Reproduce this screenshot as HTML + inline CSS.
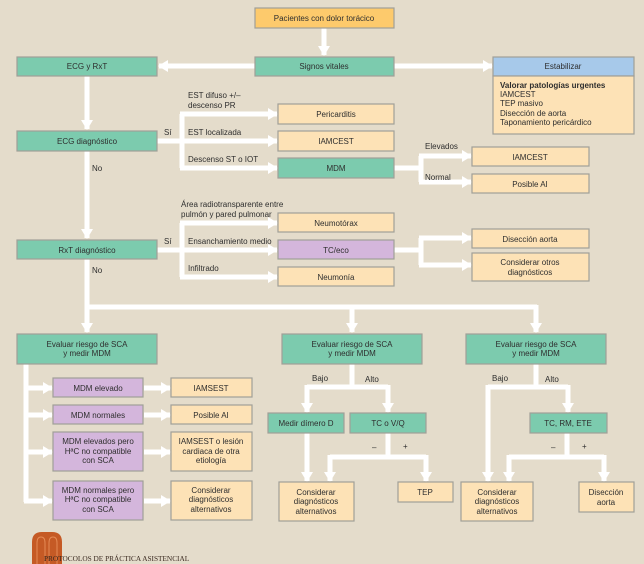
<!DOCTYPE html>
<html><head><meta charset="utf-8"><style>
html,body{margin:0;padding:0;background:#e4dccb;}
svg{display:block;}
text{font-family:"Liberation Sans",sans-serif;font-size:8px;fill:#2e2e2e;}
.c{text-anchor:middle;}
.g{fill:#7ccbae;stroke:#a09f98;stroke-width:1.2}
.p{fill:#fde2b6;stroke:#a09f98;stroke-width:1.2}
.v{fill:#d4b6dc;stroke:#a09f98;stroke-width:1.2}
.l{stroke:#fff;stroke-width:5;fill:none}
.a{fill:#fff}
</style></head><body>
<svg width="644" height="564" viewBox="0 0 644 564" xmlns="http://www.w3.org/2000/svg">
<defs>
<marker id="m" markerUnits="userSpaceOnUse" viewBox="0 0 10 12" refX="9" refY="6" markerWidth="10" markerHeight="12" orient="auto"><path d="M0,0 L10,6 L0,12 Z" fill="#fff"/></marker>
</defs>
<rect width="644" height="564" fill="#e4dccb"/>
<g class="l" stroke-linejoin="miter">
<path d="M324,28 V55" marker-end="url(#m)"/>
<path d="M255,66 H159" marker-end="url(#m)"/>
<path d="M394,66 H492" marker-end="url(#m)"/>
<path d="M87,76 V129" marker-end="url(#m)"/>
<path d="M157,141 H182"/>
<path d="M182,114 V168"/>
<path d="M180,114 H277" marker-end="url(#m)"/>
<path d="M182,141 H277" marker-end="url(#m)"/>
<path d="M180,168 H277" marker-end="url(#m)"/>
<path d="M394,168 H421"/>
<path d="M421,156 V182"/>
<path d="M419,156 H471" marker-end="url(#m)"/>
<path d="M419,182 H471" marker-end="url(#m)"/>
<path d="M87,151 V238" marker-end="url(#m)"/>
<path d="M157,250 H182"/>
<path d="M182,223 V277"/>
<path d="M180,223 H277" marker-end="url(#m)"/>
<path d="M182,250 H277" marker-end="url(#m)"/>
<path d="M180,277 H277" marker-end="url(#m)"/>
<path d="M394,250 H421"/>
<path d="M421,238 V265"/>
<path d="M419,238 H471" marker-end="url(#m)"/>
<path d="M419,265 H471" marker-end="url(#m)"/>
<path d="M87,259 V332" marker-end="url(#m)"/>
<path d="M85,307 H537"/>
<path d="M352,305 V332" marker-end="url(#m)"/>
<path d="M536,305 V332" marker-end="url(#m)"/>
<path d="M26,364 V502"/>
<path d="M24,388 H52" marker-end="url(#m)"/>
<path d="M26,415 H52" marker-end="url(#m)"/>
<path d="M26,452 H52" marker-end="url(#m)"/>
<path d="M24,501 H52" marker-end="url(#m)"/>
<path d="M144,388 H170" marker-end="url(#m)"/>
<path d="M144,415 H170" marker-end="url(#m)"/>
<path d="M144,452 H170" marker-end="url(#m)"/>
<path d="M144,501 H170" marker-end="url(#m)"/>
<path d="M352,364 V387"/>
<path d="M307,387 H388"/>
<path d="M307,385 V412" marker-end="url(#m)"/>
<path d="M388,385 V412" marker-end="url(#m)"/>
<path d="M307,433 V481" marker-end="url(#m)"/>
<path d="M388,433 V457"/>
<path d="M330,457 H426"/>
<path d="M330,455 V481" marker-end="url(#m)"/>
<path d="M426,455 V481" marker-end="url(#m)"/>
<path d="M536,364 V387"/>
<path d="M488,387 H568"/>
<path d="M488,385 V481" marker-end="url(#m)"/>
<path d="M568,385 V412" marker-end="url(#m)"/>
<path d="M567,433 V457"/>
<path d="M509,457 H604"/>
<path d="M509,455 V481" marker-end="url(#m)"/>
<path d="M604,455 V481" marker-end="url(#m)"/>
</g>
<rect x="255" y="8" width="139" height="20" fill="#fdca6c" stroke="#a09f98" stroke-width="1.2"/>
<text class="c" x="324" y="21">Pacientes con dolor torácico</text>
<rect class="g" x="255" y="57" width="139" height="19"/><text class="c" x="324" y="69">Signos vitales</text>
<rect class="g" x="17" y="57" width="140" height="19"/><text class="c" x="87" y="69">ECG y RxT</text>
<rect x="493" y="57" width="141" height="19" fill="#a7c9ea" stroke="#a09f98" stroke-width="1.2"/><text class="c" x="563" y="69">Estabilizar</text>
<rect class="p" x="493" y="76" width="141" height="58"/>
<text x="500" y="88" font-weight="bold">Valorar patologías urgentes</text>
<text x="500" y="97">IAMCEST</text><text x="500" y="106">TEP masivo</text>
<text x="500" y="116">Disección de aorta</text><text x="500" y="125">Taponamiento pericárdico</text>
<rect class="p" x="278" y="104" width="116" height="20"/><text class="c" x="336" y="117">Pericarditis</text>
<rect class="p" x="278" y="131" width="116" height="20"/><text class="c" x="336" y="144">IAMCEST</text>
<rect class="g" x="278" y="158" width="116" height="20"/><text class="c" x="336" y="171">MDM</text>
<rect class="g" x="17" y="131" width="140" height="20"/><text class="c" x="87" y="144">ECG diagnóstico</text>
<rect class="p" x="472" y="147" width="117" height="19"/><text class="c" x="530" y="160">IAMCEST</text>
<rect class="p" x="472" y="174" width="117" height="19"/><text class="c" x="530" y="187">Posible AI</text>
<rect class="p" x="278" y="213" width="116" height="19"/><text class="c" x="336" y="226">Neumotórax</text>
<rect class="v" x="278" y="240" width="116" height="19"/><text class="c" x="336" y="253">TC/eco</text>
<rect class="p" x="278" y="267" width="116" height="19"/><text class="c" x="336" y="280">Neumonía</text>
<rect class="g" x="17" y="240" width="140" height="19"/><text class="c" x="87" y="253">RxT diagnóstico</text>
<rect class="p" x="472" y="229" width="117" height="19"/><text class="c" x="530" y="242">Disección aorta</text>
<rect class="p" x="472" y="253" width="117" height="28"/><text class="c" x="530" y="265">Considerar otros</text><text class="c" x="530" y="275">diagnósticos</text>
<text x="188" y="98">EST difuso +/–</text><text x="188" y="108">descenso PR</text>
<text x="164" y="135">Sí</text><text x="188" y="135">EST localizada</text>
<text x="188" y="162">Descenso ST o IOT</text>
<text x="92" y="171">No</text>
<text x="425" y="149">Elevados</text><text x="425" y="180">Normal</text>
<text x="181" y="207">Área radiotransparente entre</text><text x="181" y="217">pulmón y pared pulmonar</text>
<text x="164" y="244">Sí</text><text x="188" y="244">Ensanchamiento medio</text>
<text x="188" y="271">Infiltrado</text>
<text x="92" y="273">No</text>
<rect class="g" x="17" y="334" width="140" height="30"/><text class="c" x="87" y="347">Evaluar riesgo de SCA</text><text class="c" x="87" y="356">y medir MDM</text>
<rect class="g" x="282" y="334" width="140" height="30"/><text class="c" x="352" y="347">Evaluar riesgo de SCA</text><text class="c" x="352" y="356">y medir MDM</text>
<rect class="g" x="466" y="334" width="140" height="30"/><text class="c" x="536" y="347">Evaluar riesgo de SCA</text><text class="c" x="536" y="356">y medir MDM</text>
<rect class="v" x="53" y="378" width="90" height="19"/><text class="c" x="98" y="391">MDM elevado</text>
<rect class="v" x="53" y="405" width="90" height="19"/><text class="c" x="98" y="418">MDM normales</text>
<rect class="v" x="53" y="432" width="90" height="39"/><text class="c" x="98" y="444">MDM elevados pero</text><text class="c" x="98" y="454">HªC no compatible</text><text class="c" x="98" y="463">con SCA</text>
<rect class="v" x="53" y="481" width="90" height="39"/><text class="c" x="98" y="493">MDM normales pero</text><text class="c" x="98" y="502">HªC no compatible</text><text class="c" x="98" y="512">con SCA</text>
<rect class="p" x="171" y="378" width="81" height="19"/><text class="c" x="211" y="391">IAMSEST</text>
<rect class="p" x="171" y="405" width="81" height="19"/><text class="c" x="211" y="418">Posible AI</text>
<rect class="p" x="171" y="432" width="81" height="39"/><text class="c" x="211" y="444">IAMSEST o lesión</text><text class="c" x="211" y="454">cardiaca de otra</text><text class="c" x="211" y="463">etiología</text>
<rect class="p" x="171" y="481" width="81" height="39"/><text class="c" x="211" y="493">Considerar</text><text class="c" x="211" y="502">diagnósticos</text><text class="c" x="211" y="512">alternativos</text>
<text x="312" y="381">Bajo</text><text x="365" y="382">Alto</text>
<rect class="g" x="268" y="413" width="76" height="20"/><text class="c" x="306" y="426">Medir dímero D</text>
<rect class="g" x="350" y="413" width="76" height="20"/><text class="c" x="388" y="426">TC o V/Q</text>
<text x="372" y="450">–</text><text x="403" y="449">+</text>
<rect class="p" x="279" y="482" width="75" height="39"/><text class="c" x="316" y="495">Considerar</text><text class="c" x="316" y="504">diagnósticos</text><text class="c" x="316" y="514">alternativos</text>
<rect class="p" x="398" y="482" width="55" height="20"/><text class="c" x="425" y="495">TEP</text>
<text x="492" y="381">Bajo</text><text x="545" y="382">Alto</text>
<rect class="g" x="530" y="413" width="77" height="20"/><text class="c" x="568" y="426">TC, RM, ETE</text>
<text x="551" y="450">–</text><text x="582" y="449">+</text>
<rect class="p" x="461" y="482" width="72" height="39"/><text class="c" x="497" y="495">Considerar</text><text class="c" x="497" y="504">diagnósticos</text><text class="c" x="497" y="514">alternativos</text>
<rect class="p" x="579" y="482" width="55" height="30"/><text class="c" x="606" y="495">Disección</text><text class="c" x="606" y="505">aorta</text>
<path d="M32,564 V542 Q32,532 42,532 H52 Q62,532 62,542 V564 Z" fill="#c55a25"/>
<path d="M37,564 V543 Q37,537 41,537 Q45,537 45,543 V564 M49,564 V543 Q49,537 53,537 Q57,537 57,543 V564" stroke="#e58a55" stroke-width="1" fill="none"/>
<text x="44" y="561" style="font-family:'Liberation Serif',serif;font-size:7.3px;fill:#3a2a20">PROTOCOLOS DE PRÁCTICA ASISTENCIAL</text>
</svg>
</body></html>
